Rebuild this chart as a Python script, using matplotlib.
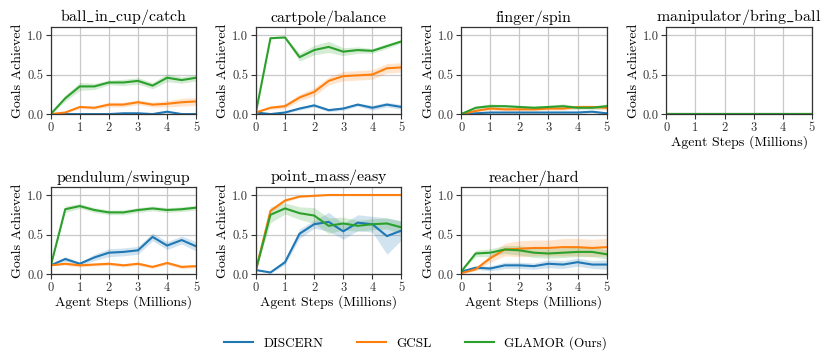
import numpy as np
import matplotlib
matplotlib.use("Agg")
import matplotlib.pyplot as plt

plt.rcParams['font.family'] = 'serif'
plt.rcParams['font.serif'] = ['cmr10', 'DejaVu Serif']
plt.rcParams['mathtext.fontset'] = 'cm'
plt.rcParams['axes.unicode_minus'] = False

# Data
steps = [0, 0.5, 1, 1.5, 2, 2.5, 3, 3.5, 4, 4.5, 5]
methods = ["DISCERN", "GCSL", "GLAMOR (Ours)"]
colors = ["#1f77b4", "#ff7f0e", "#2ca02c"]

tasks = [r"ball$\_$in$\_$cup/catch", "cartpole/balance", "finger/spin", r"manipulator/bring$\_$ball",
         "pendulum/swingup", r"point$\_$mass/easy", "reacher/hard"]

ball_discern = [0, 0, 0, 0, 0, 0.01, 0.01, 0, 0.03, 0, 0]
ball_gcsl = [0, 0.02, 0.09, 0.08, 0.12, 0.12, 0.15, 0.12, 0.13, 0.15, 0.16]
ball_glamor = [0, 0.2, 0.35, 0.35, 0.40, 0.40, 0.42, 0.36, 0.46, 0.43, 0.46]

cart_discern = [0.02, 0, 0.02, 0.07, 0.11, 0.05, 0.07, 0.12, 0.08, 0.12, 0.09]
cart_gcsl = [0.02, 0.08, 0.10, 0.21, 0.28, 0.42, 0.48, 0.49, 0.50, 0.58, 0.59]
cart_glamor = [0.02, 0.96, 0.97, 0.72, 0.81, 0.85, 0.79, 0.81, 0.80, 0.86, 0.92]

finger_discern = [0, 0.01, 0.02, 0.02, 0.02, 0.02, 0.02, 0.02, 0.02, 0.03, 0.01]
finger_gcsl = [0, 0.04, 0.07, 0.06, 0.06, 0.06, 0.07, 0.07, 0.09, 0.09, 0.08]
finger_glamor = [0, 0.08, 0.10, 0.10, 0.09, 0.08, 0.09, 0.10, 0.08, 0.08, 0.10]

manip_discern = [0] * 11
manip_gcsl = [0] * 11
manip_glamor = [0] * 11

pend_discern = [0.11, 0.19, 0.13, 0.21, 0.27, 0.28, 0.30, 0.47, 0.36, 0.43, 0.35]
pend_gcsl = [0.11, 0.13, 0.11, 0.12, 0.13, 0.11, 0.13, 0.09, 0.14, 0.09, 0.10]
pend_glamor = [0.10, 0.82, 0.86, 0.81, 0.78, 0.78, 0.81, 0.83, 0.81, 0.82, 0.84]

pm_discern = [0.05, 0.02, 0.15, 0.51, 0.63, 0.66, 0.54, 0.65, 0.63, 0.48, 0.55]
pm_gcsl = [0.05, 0.80, 0.93, 0.98, 0.99, 1.0, 1.0, 1.0, 1.0, 1.0, 1.0]
pm_glamor = [0.05, 0.75, 0.83, 0.77, 0.74, 0.61, 0.64, 0.61, 0.63, 0.64, 0.59]

reach_discern = [0.03, 0.08, 0.07, 0.11, 0.11, 0.10, 0.13, 0.12, 0.15, 0.12, 0.12]
reach_gcsl = [0.01, 0.06, 0.20, 0.31, 0.32, 0.33, 0.33, 0.34, 0.34, 0.33, 0.34]
reach_glamor = [0.03, 0.26, 0.27, 0.31, 0.30, 0.27, 0.26, 0.27, 0.28, 0.28, 0.25]

# std-error band half widths
ball_err = [[0, 0, 0, 0, 0, 0.01, 0.01, 0.01, 0.01, 0.01, 0],
            [0, 0.01, 0.02, 0.02, 0.03, 0.03, 0.03, 0.03, 0.04, 0.05, 0.05],
            [0, 0.04, 0.05, 0.04, 0.03, 0.04, 0.04, 0.04, 0.05, 0.04, 0.04]]
cart_err = [[0, 0.01, 0.01, 0.02, 0.02, 0.02, 0.02, 0.02, 0.03, 0.03, 0.03],
            [0, 0.02, 0.03, 0.04, 0.05, 0.05, 0.06, 0.06, 0.06, 0.06, 0.06],
            [0, 0.01, 0.01, 0.05, 0.06, 0.07, 0.05, 0.04, 0.03, 0.03, 0.02]]
finger_err = [[0, 0.01, 0.01, 0.01, 0.01, 0.01, 0.01, 0.01, 0.01, 0.01, 0.01],
              [0, 0.01, 0.02, 0.02, 0.02, 0.02, 0.02, 0.02, 0.02, 0.02, 0.03],
              [0, 0.02, 0.03, 0.02, 0.02, 0.02, 0.02, 0.03, 0.02, 0.02, 0.03]]
manip_err = [[0] * 11, [0] * 11, [0] * 11]
pend_err = [[0, 0.03, 0.02, 0.04, 0.05, 0.05, 0.05, 0.05, 0.05, 0.05, 0.06],
            [0, 0.02, 0.02, 0.02, 0.02, 0.02, 0.02, 0.02, 0.02, 0.02, 0.02],
            [0, 0.04, 0.03, 0.03, 0.03, 0.03, 0.03, 0.03, 0.03, 0.03, 0.03]]
pm_err = [[0, 0.01, 0.03, 0.06, 0.05, 0.12, 0.1, 0.1, 0.1, 0.23, 0.12],
          [0, 0.02, 0.02, 0.01, 0.01, 0, 0, 0, 0, 0, 0],
          [0, 0.1, 0.07, 0.08, 0.1, 0.1, 0.08, 0.07, 0.07, 0.07, 0.08]]
reach_err = [[0, 0.02, 0.03, 0.04, 0.04, 0.04, 0.05, 0.05, 0.05, 0.05, 0.06],
             [0, 0.02, 0.05, 0.08, 0.1, 0.1, 0.1, 0.11, 0.11, 0.11, 0.11],
             [0, 0.04, 0.05, 0.05, 0.06, 0.06, 0.06, 0.06, 0.06, 0.06, 0.06]]

task_data = [
    ([ball_discern, ball_gcsl, ball_glamor], ball_err),
    ([cart_discern, cart_gcsl, cart_glamor], cart_err),
    ([finger_discern, finger_gcsl, finger_glamor], finger_err),
    ([manip_discern, manip_gcsl, manip_glamor], manip_err),
    ([pend_discern, pend_gcsl, pend_glamor], pend_err),
    ([pm_discern, pm_gcsl, pm_glamor], pm_err),
    ([reach_discern, reach_gcsl, reach_glamor], reach_err),
]

fig, axes = plt.subplots(2, 4, figsize=(8.31, 3.62), dpi=100)
plt.subplots_adjust(left=0.061, right=0.977, top=0.925, bottom=0.243, wspace=0.41, hspace=0.84)

x = np.array(steps)
handles = []
for k, ax in enumerate(axes.flat):
    if k >= len(tasks):
        ax.axis('off')
        continue
    means, errs = task_data[k]
    for m in range(3):
        y = np.array(means[m])
        e = np.array(errs[m])
        ax.fill_between(x, y - e, y + e, color=colors[m], alpha=0.2, linewidth=0)
        line, = ax.plot(x, y, color=colors[m], linewidth=1.5, label=methods[m])
        if k == 0:
            handles.append(line)
    ax.set_xlim(0, 5)
    ax.set_ylim(0, 1.1)
    ax.set_xticks([0, 1, 2, 3, 4, 5])
    ax.set_yticks([0.0, 0.5, 1.0])
    ax.set_yticklabels(["0.0", "0.5", "1.0"])
    ax.grid(True, color="#c8c8c8", linewidth=0.9)
    ax.set_axisbelow(True)
    for s in ax.spines.values():
        s.set_color("#333333")
        s.set_linewidth(0.9)
    ax.tick_params(labelsize=9, length=3.5, width=0.8, pad=2, colors="#333333")
    ax.set_title(tasks[k], fontsize=11.5, pad=4)
    ax.set_ylabel("Goals Achieved", fontsize=10, labelpad=2)
    if k >= 3:
        ax.set_xlabel("Agent Steps (Millions)", fontsize=10, labelpad=1)

fig.legend(handles, methods, loc='lower center', ncol=3, frameon=False, fontsize=9.5,
           bbox_to_anchor=(0.5, 0.0), columnspacing=2.5, handlelength=2.2)

plt.savefig("out.png", dpi=100)
